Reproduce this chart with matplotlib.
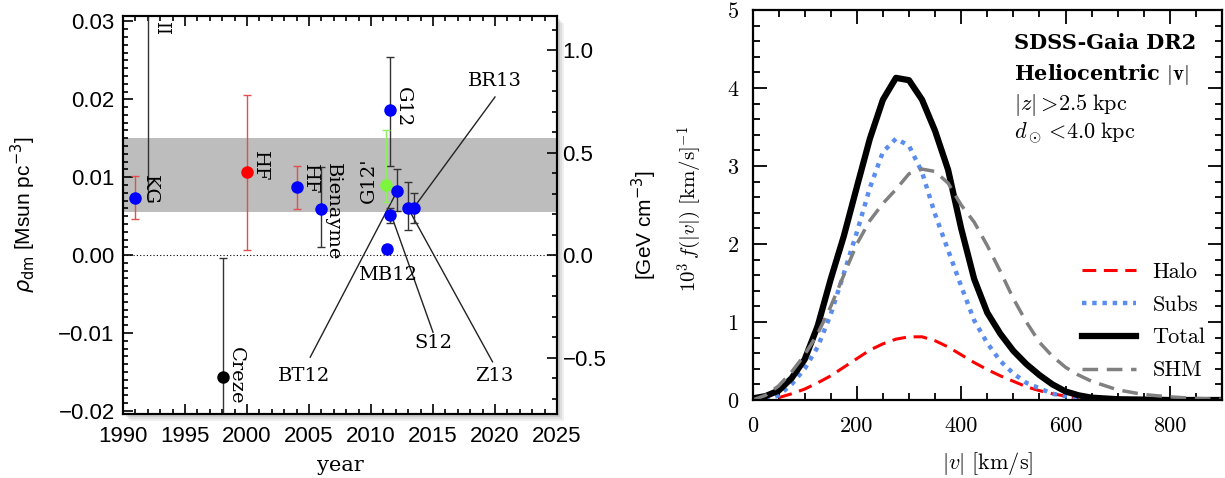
import matplotlib
matplotlib.use('Agg')
import matplotlib.pyplot as plt
import numpy as np
from matplotlib.ticker import MultipleLocator, FuncFormatter
from matplotlib.patches import Rectangle

# ---- left panel: local dark matter density determinations ----
names = ['KG', 'HF', 'HF', 'Bienayme', 'G12', "G12'", 'BT12', 'S12', 'MB12', 'Z13', 'BR13', 'Creze']
years = [1991.0, 2000.0, 2004.0, 2006.0, 2011.5, 2011.2, 2012.1, 2011.5, 2011.3, 2013.0, 2013.5, 1998.1]
rho_dm = [0.0073, 0.0107, 0.0088, 0.0059, 0.0186, 0.0090, 0.0082, 0.0051, 0.0008, 0.0060, 0.0061, -0.0156]
err_low = [0.0026, 0.0101, 0.0029, 0.0049, 0.0071, 0.0022, 0.0026, 0.0010, 0.0005, 0.0028, 0.0020, 0.0060]
err_high = [0.0028, 0.0098, 0.0027, 0.0054, 0.0069, 0.0070, 0.0029, 0.0010, 0.0005, 0.0034, 0.0019, 0.0152]
band = (0.0055, 0.015)
msun_to_gev = 38.0  # 1 Msun/pc^3 in GeV/cm^3

# ---- right panel: speed distributions ----
v_kms = [0, 25, 50, 75, 100, 125, 150, 175, 200, 225, 250, 275, 300, 325, 350, 375,
         400, 425, 450, 475, 500, 525, 550, 575, 600, 625, 650, 700, 750, 800, 850, 900]
nan = np.nan
f_halo = [nan, nan, 0.03, 0.08, 0.14, 0.22, 0.31, 0.42, 0.53, 0.64, 0.72, 0.78, 0.81, 0.81, 0.76, 0.68,
          0.58, 0.48, 0.39, 0.31, 0.24, 0.17, 0.12, 0.08, 0.05, 0.02, nan, nan, nan, nan, nan, nan]
f_subs = [nan, 0.0, 0.06, 0.20, 0.40, 0.68, 1.10, 1.62, 2.15, 2.72, 3.18, 3.35, 3.26, 2.92, 2.38, 1.92,
          1.46, 1.02, 0.73, 0.50, 0.34, 0.22, 0.15, 0.08, 0.05, 0.02, 0.0, nan, nan, nan, nan, nan]
f_total = [0.02, 0.05, 0.12, 0.28, 0.52, 0.95, 1.55, 2.10, 2.73, 3.35, 3.85, 4.13, 4.10, 3.85, 3.45, 2.95,
           2.20, 1.55, 1.12, 0.85, 0.63, 0.46, 0.32, 0.20, 0.11, 0.06, 0.03, 0.01, 0.005, 0.0, 0.0, 0.0]
f_shm = [0.0, 0.06, 0.18, 0.36, 0.58, 0.85, 1.20, 1.60, 2.00, 2.30, 2.52, 2.70, 2.90, 2.96, 2.93, 2.78,
         2.50, 2.28, 1.98, 1.65, 1.30, 1.00, 0.74, 0.56, 0.42, 0.32, 0.24, 0.13, 0.07, 0.04, 0.02, 0.01]

# styles
pt_colors = ['blue', 'red', 'blue', 'blue', 'blue', '#7cf53c', 'blue', 'blue', 'blue', 'blue', 'blue', 'black']
eb_colors = ['#e05050', '#e05050', '#e05050', '#333333', '#333333', '#8ef060', '#333333', '#333333',
             '#333333', '#333333', '#333333', '#333333']
# label placement (year, rho, rotation) for each name
label_pos = [(1992.2, 0.0083, -90), (2001.05, 0.0114, -90), (2005.1, 0.0097, -90), (2006.9, 0.0056, -90),
             (2012.6, 0.0190, -90), (2009.8, 0.0096, 90), (2004.6, -0.0155, 0), (2015.0, -0.0113, 0),
             (2011.3, -0.0026, 0), (2019.9, -0.0155, 0), (2020.0, 0.0223, 0), (1999.1, -0.0155, -90)]
# leader lines: (label end) -> (point)
leaders = [((2005.1, -0.0131), (2012.1, 0.0082)), ((2015.0, -0.0099), (2011.6, 0.0053)),
           ((2019.8, -0.0137), (2013.0, 0.0060)), ((2020.0, 0.0203), (2013.5, 0.0062))]

W, H = 1225, 478
fig = plt.figure(figsize=(W / 100, H / 100), dpi=100)


def minus_fmt(fmt):
    return FuncFormatter(lambda x, pos: (fmt % x).replace('-', '\u2212'))


# left axes with a soft drop shadow
l0, b0, w0, h0 = 123 / W, (H - 414) / H, 434 / W, 398 / H
for k, a in zip([7, 5, 3], [0.12, 0.15, 0.2]):
    fig.patches.append(Rectangle((l0 + k / W, b0 - k / H), w0, h0, transform=fig.transFigure,
                                 facecolor='gray', edgecolor='none', alpha=a, zorder=0))
ax1 = fig.add_axes([l0, b0, w0, h0])
ax1.set_zorder(2)

sans = 'Liberation Sans'
serif = 'DejaVu Serif'

ax1.axhspan(band[0], band[1], color='#bdbdbd', lw=0, zorder=0)
ax1.axhline(0, color='black', lw=0.8, ls=(0, (1, 2)), zorder=1)
ax1.plot([1992.0, 1992.0], [0.0307, 0.0072], color='#333333', lw=1)
ax1.text(1993.1, 0.0291, 'II', rotation=-90, ha='center', va='center', fontsize=13, family=serif)

for (p0, p1) in leaders:
    ax1.plot([p0[0], p1[0]], [p0[1], p1[1]], color='#222222', lw=1, zorder=2)

for i in range(len(names)):
    ax1.errorbar(years[i], rho_dm[i], yerr=[[err_low[i]], [err_high[i]]], fmt='none',
                 ecolor=eb_colors[i], elinewidth=1, capsize=3, capthick=1, zorder=3)
    ax1.plot(years[i], rho_dm[i], 'o', color=pt_colors[i], ms=9, mec='none', zorder=4)
    lx, ly, rot = label_pos[i]
    ax1.text(lx, ly, names[i], rotation=rot, ha='center', va='center', fontsize=14,
             family=serif, zorder=5)

ax1.set_xlim(1990, 2025)
ax1.set_ylim(-0.0204, 0.0307)
ax1.xaxis.set_major_locator(MultipleLocator(5))
ax1.xaxis.set_minor_locator(MultipleLocator(1))
ax1.yaxis.set_major_locator(MultipleLocator(0.01))
ax1.yaxis.set_minor_locator(MultipleLocator(0.001))
ax1.yaxis.set_major_formatter(minus_fmt('%.2f'))
ax1.tick_params(which='both', direction='in', top=True, right=False, width=1.2, labelsize=16)
ax1.tick_params(which='major', length=7)
ax1.tick_params(which='minor', length=3.5)
ax1.tick_params(axis='x', pad=9)
ax1.tick_params(axis='y', pad=6)
for lab in ax1.get_xticklabels() + ax1.get_yticklabels():
    lab.set_family(sans)
for s in ax1.spines.values():
    s.set_linewidth(1.5)
ax1.set_xlabel('year', fontsize=15, family=serif)
ax1.xaxis.set_label_coords(0.5, -0.105)
ax1.set_ylabel(r'$\rho_{\rm dm}$ [Msun pc$^{-3}$]', fontsize=15, family=sans, math_fontfamily='dejavusans')
ax1.yaxis.set_label_coords(-0.197, 0.5)

ax1r = ax1.twinx()
ax1r.set_ylim(ax1.get_ylim()[0] * msun_to_gev, ax1.get_ylim()[1] * msun_to_gev)
ax1r.yaxis.set_major_locator(MultipleLocator(0.5))
ax1r.yaxis.set_minor_locator(MultipleLocator(0.1))
ax1r.yaxis.set_major_formatter(minus_fmt('%.1f'))
ax1r.tick_params(which='both', direction='in', width=1.2, labelsize=16, pad=4)
ax1r.tick_params(which='major', length=7)
ax1r.tick_params(which='minor', length=3.5)
for lab in ax1r.get_yticklabels():
    lab.set_family(sans)
ax1r.set_ylabel(r'[GeV cm$^{-3}$]', fontsize=15, family=sans, math_fontfamily='dejavusans')
ax1r.yaxis.set_label_coords(1.167, 0.475)
for s in ax1r.spines.values():
    s.set_linewidth(1.5)

# right panel
ax2 = fig.add_axes([752.5 / W, (H - 400) / H, 469.5 / W, 390 / H])
ax2.plot(v_kms, f_halo, color='red', lw=2.2, dashes=(4.5, 2.5), label='Halo')
ax2.plot(v_kms, f_subs, color='#5b8def', lw=3.2, dashes=(1, 1.3), label='Subs')
ax2.plot(v_kms, f_total, color='black', lw=4.5, label='Total')
ax2.plot(v_kms, f_shm, color='#808080', lw=2.5, dashes=(4.5, 2.5), label='SHM')

ax2.set_xlim(0, 900)
ax2.set_ylim(0, 5)
ax2.xaxis.set_major_locator(MultipleLocator(200))
ax2.xaxis.set_minor_locator(MultipleLocator(50))
ax2.yaxis.set_major_locator(MultipleLocator(1))
ax2.yaxis.set_minor_locator(MultipleLocator(0.2))
ax2.tick_params(which='both', direction='in', top=True, right=True, width=1.3, labelsize=16)
ax2.tick_params(which='major', length=10)
ax2.tick_params(which='minor', length=5)
ax2.tick_params(axis='x', pad=12)
ax2.tick_params(axis='y', pad=10)
for lab in ax2.get_xticklabels() + ax2.get_yticklabels():
    lab.set_family('cmr10')
for s in ax2.spines.values():
    s.set_linewidth(1.6)

ax2.set_xlabel(r'$|v|\ [\mathrm{km/s}]$', fontsize=16, math_fontfamily='cm')
ax2.xaxis.set_label_coords(0.5, -0.128)
ax2.set_ylabel(r'$10^3\,f(|v|)\ [\mathrm{km/s}]^{-1}$', fontsize=15, math_fontfamily='cm')
ax2.yaxis.set_label_coords(-0.103, 0.49)

ax2.text(502, 4.58, 'SDSS-Gaia DR2', family='DejaVu Serif', weight='bold', fontsize=15, va='center')
ax2.text(502, 4.17, r'Heliocentric $|\mathbf{v}|$', family='DejaVu Serif', weight='bold', fontsize=15,
         va='center', math_fontfamily='cm')
ax2.text(502, 3.78, r'$|z|>\!2.5\;\mathrm{kpc}$', fontsize=16, va='center', math_fontfamily='cm')
ax2.text(502, 3.42, r'$d_\odot<\!4.0\;\mathrm{kpc}$', fontsize=16, va='center', math_fontfamily='cm')

ax2.legend(loc='lower right', bbox_to_anchor=(0.988, 0.022), frameon=False,
           prop={'family': 'cmr10', 'size': 16}, handlelength=2.4, handletextpad=0.75,
           labelspacing=0.6, borderpad=0)

fig.savefig('out.png', dpi=100)
